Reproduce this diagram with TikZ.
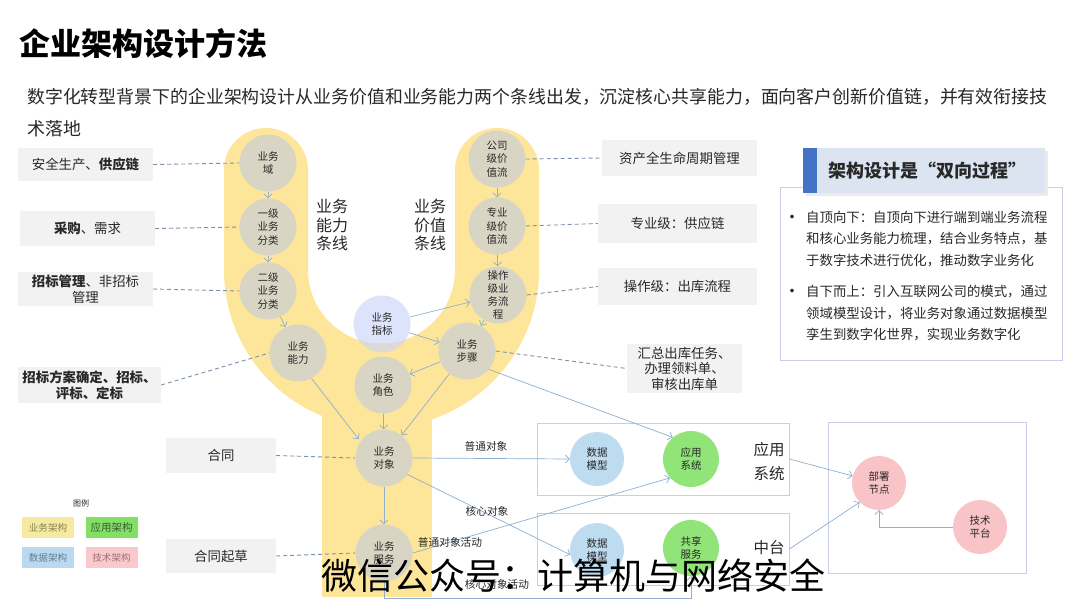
\documentclass[tikz,border=0pt]{standalone}
\usepackage{fontspec}
\setmainfont{Noto Sans CJK SC}
\usetikzlibrary{arrows.meta}
\newcommand\fsz[2]{\fontsize{#1}{#2}\selectfont}
\definecolor{uy}{RGB}{253,229,153}
\definecolor{cg}{RGB}{217,213,196}
\definecolor{ind}{RGB}{203,212,248}
\definecolor{ac}{RGB}{140,175,210}
\definecolor{dc}{RGB}{125,145,170}
\definecolor{gb}{RGB}{242,242,242}
\definecolor{lav}{RGB}{200,204,238}
\definecolor{dmc}{RGB}{189,220,240}
\definecolor{agc}{RGB}{144,228,120}
\definecolor{pkc}{RGB}{249,196,200}
\definecolor{hdr}{RGB}{220,228,242}
\definecolor{barc}{RGB}{68,114,196}
\definecolor{txt}{RGB}{40,40,40}
\definecolor{lyel}{RGB}{245,235,160}
\definecolor{lgrn}{RGB}{130,224,100}
\definecolor{lblu}{RGB}{187,217,238}
\definecolor{lpnk}{RGB}{249,201,204}
\begin{document}
\begin{tikzpicture}[x=1pt,y=-1pt,
  circ/.style={circle, fill=cg, minimum size=57, inner sep=0, align=center, font=\fsz{10.5}{13.2}, text=txt},
  gbox/.style={fill=gb, inner sep=0, align=center, font=\fsz{13.4}{16}, text=txt},
  arr/.style={draw=ac, line width=0.7pt, -{Straight Barb[length=4pt,width=8pt]}},
  dsh/.style={draw=dc, line width=0.9pt, dash pattern=on 4pt off 3pt},
  lbl/.style={font=\fsz{10.7}{12}, text=txt, inner sep=0},
  legbox/.style={minimum width=52, minimum height=21, inner sep=0, font=\fsz{9.6}{11}},
  cbox/.style={draw=lav, line width=0.8pt, fill=none, inner sep=0}
]
\useasboundingbox (0,0) rectangle (1080,608);
\fill[white] (0,0) rectangle (1080,608);

% title & subtitle
\node[anchor=west, font=\fsz{31}{36}\bfseries, text=black, inner sep=0] (title) at (19,44) {企业架构设计方法};
\node[anchor=west, font=\fsz{17.9}{20}, text=txt, inner sep=0] (sub1) at (27,97) {数字化转型背景下的企业架构设计从业务价值和业务能力两个条线出发，沉淀核心共享能力，面向客户创新价值链，并有效衔接技};
\node[anchor=west, font=\fsz{17.9}{20}, text=txt, inner sep=0] (sub2) at (27,129) {术落地};

% yellow U and stem
\fill[uy] (224,270) -- (224,170) arc[start angle=180,end angle=360,radius=42] -- (308,270)
  arc[start angle=180,end angle=0,radius=73.5] -- (455,170)
  arc[start angle=180,end angle=360,radius=42] -- (539,270)
  arc[start angle=0,end angle=180,radius=157.5] -- cycle;
\fill[uy] (322,380) rectangle (432,597);

% line labels
\node[font=\fsz{16}{18.5}, align=center, text=txt] (capline) at (332,225) {业务\\能力\\条线};
\node[font=\fsz{16}{18.5}, align=center, text=txt] (valline) at (430,225) {业务\\价值\\条线};

% circles
\node[circ] (dom) at (268,163) {业务\\域};
\node[circ] (l1) at (268,227) {一级\\业务\\分类};
\node[circ] (l2) at (268,291) {二级\\业务\\分类};
\node[circ] (cap) at (298,353) {业务\\能力};
\node[circ] (cv) at (497,159) {公司\\级价\\值流};
\node[circ] (pv) at (497,226) {专业\\级价\\值流};
\node[circ] (op) at (498,295) {操作\\级业\\务流\\程};
\node[circ] (step) at (467,351) {业务\\步骤};
\node[circ, fill=ind, fill opacity=0.65, text opacity=1] (ind) at (382,324) {业务\\指标};
\node[circ] (role) at (383,385) {业务\\角色};
\node[circ] (obj) at (384,458) {业务\\对象};
\node[circ] (svc) at (384,553) {业务\\服务};

% grey boxes left
\node[gbox, minimum width=135, minimum height=33] (b1) at (85.5,164.5) {安全生产、\textbf{供应链}};
\node[gbox, minimum width=135, minimum height=35] (b2) at (87.5,228.5) {\textbf{采购}、需求};
\node[gbox, minimum width=135, minimum height=34] (b3) at (85.5,289) {\textbf{招标管理}、非招标\\管理};
\node[gbox, minimum width=143, minimum height=36] (b4) at (89.5,385) {\textbf{招标方案确定、招标、}\\\textbf{评标、定标}};
\node[gbox, minimum width=110, minimum height=35] (b5) at (221,455.5) {合同};
\node[gbox, minimum width=110, minimum height=34] (b6) at (221,556) {合同起草};
% grey boxes right
\node[gbox, minimum width=155, minimum height=36] (b7) at (679.5,158) {资产全生命周期管理};
\node[gbox, minimum width=159, minimum height=39] (b8) at (677.5,223.5) {专业级：供应链};
\node[gbox, minimum width=159, minimum height=37] (b9) at (677.5,286.5) {操作级：出库流程};
\node[gbox, minimum width=115, minimum height=49, font=\fsz{13.4}{15.5}] (b10) at (684.5,368.5) {汇总出库任务、\\办理领料单、\\审核出库单};

% dashed links
\draw[dsh] (b1.east) -- (dom.west);
\draw[dsh] (b2.east) -- (l1.west);
\draw[dsh] (b3.east) -- (l2.west);
\draw[dsh] (b4.east) -- (cap.west);
\draw[dsh] (b5.east) -- (obj.west);
\draw[dsh] (b6.east) -- (svc.west);
\draw[dsh] (cv.east) -- (b7.west);
\draw[dsh] (pv.east) -- (b8.west);
\draw[dsh] (op.east) -- (b9.west);
\draw[dsh] (step.east) -- (b10.west);

% containers
\node[cbox, minimum width=252, minimum height=72] (appbox) at (663,459) {};
\node[cbox, minimum width=252, minimum height=72] (midbox) at (663,549) {};
\node[cbox, minimum width=198, minimum height=151] (depbox) at (927,497.5) {};

\node[circ, fill=dmc, minimum size=54] (dm1) at (597,459) {数据\\模型};
\node[circ, fill=agc, minimum size=56] (app) at (691,459) {应用\\系统};
\node[font=\fsz{15.5}{24}, align=center, text=txt] (apptxt) at (769,462) {应用\\系统};
\node[circ, fill=dmc, minimum size=54] (dm2) at (597,550) {数据\\模型};
\node[circ, fill=agc, minimum size=56] (shr) at (691,548) {共享\\服务};
\node[font=\fsz{15.5}{18}, text=txt] (midtxt) at (769,548) {中台};
\node[circ, fill=pkc, minimum size=54] (dep) at (879,483) {部署\\节点};
\node[circ, fill=pkc, minimum size=54] (tech) at (980,527) {技术\\平台};

% arrows in U
\draw[arr] (dom) -- (l1);
\draw[arr] (l1) -- (l2);
\draw[arr] (l2) -- (cap);
\draw[arr] (cv) -- (pv);
\draw[arr] (pv) -- (op);
\draw[arr] (op) -- (step);
\draw[arr] (ind) -- (op);
\draw[arr] (ind) -- (step);
\draw[arr] (step) -- (role);
\draw[arr, shorten >=3pt] (cap.-62) -- (obj.145);
\draw[arr] (step) -- (obj);
\draw[arr] (role) -- (obj);
\draw[arr] (obj) -- (svc);

% arrows to the right
\draw[arr] (obj.east) -- (dm1.west);
\draw[arr] (obj.-35) -- (dm2.190);
\draw[arr] (svc.east) -- (app.222);
\coordinate (kb) at (691,598);
\draw[arr] (svc.south) |- (kb) -- (shr.south);
\draw[arr] (step.-40) -- (app.130);
\draw[arr] (appbox.east) -- (dep.165);
\draw[arr] (midbox.east) -- (dep.-135);
\draw[arr] (tech.west) -| (dep.south);

\node[lbl] (l_a) at (486,446) {普通对象};
\node[lbl] (l_b) at (487,511) {核心对象};
\node[lbl] (l_c) at (450,542) {普通对象活动};
\node[lbl] (l_d) at (497,584) {核心对象活动};

% legend
\node[font=\fsz{8}{9}, text=txt] (lg) at (81,503) {图例};
\node[legbox, fill=lyel, text={rgb,255:red,140;green,130;blue,80}] (lg1) at (48,527.5) {业务架构};
\node[legbox, fill=lgrn, text={rgb,255:red,60;green,90;blue,50}, font=\fsz{10.5}{12}] (lg2) at (111.5,527.5) {应用架构};
\node[legbox, fill=lblu, text={rgb,255:red,100;green,125;blue,150}] (lg3) at (48,557.5) {数据架构};
\node[legbox, fill=lpnk, text={rgb,255:red,160;green,110;blue,115}] (lg4) at (111.5,557.5) {技术架构};

% right panel
\node[draw=lav, line width=0.8pt, fill=white, minimum width=282, minimum height=173, inner sep=0] (pan) at (921,273.5) {};
\fill[black!8] (806,151) rectangle (1048,196);
\node[fill=hdr, minimum width=242, minimum height=45, inner sep=0] (hd) at (924,170.5) {};
\fill[barc] (803,148) rectangle (817,193);
\node[font=\fsz{18}{20}\bfseries, text=txt] (hdt) at (927,171) {架构设计是“双向过程”};
\node[font=\fsz{17}{18}, text=txt, inner sep=0] (d1) at (792,219) {•};
\node[anchor=north west, align=left, inner sep=0, font=\fsz{13.4}{21.5}, text=txt] (t1) at (806,211) {自顶向下：自顶向下进行端到端业务流程\\和核心业务能力梳理，结合业务特点，基\\于数字技术进行优化，推动数字业务化};
\node[font=\fsz{17}{18}, text=txt, inner sep=0] (d2) at (792,293) {•};
\node[anchor=north west, align=left, inner sep=0, font=\fsz{13.4}{21.5}, text=txt] (t2) at (806,285) {自下而上：引入互联网公司的模式，通过\\领域模型设计，将业务对象通过数据模型\\孪生到数字化世界，实现业务数字化};

% watermark
\node[font=\fsz{36}{40}, text=black, inner sep=0] (wm) at (573,576) {微信公众号：计算机与网络安全};
\end{tikzpicture}
\end{document}
